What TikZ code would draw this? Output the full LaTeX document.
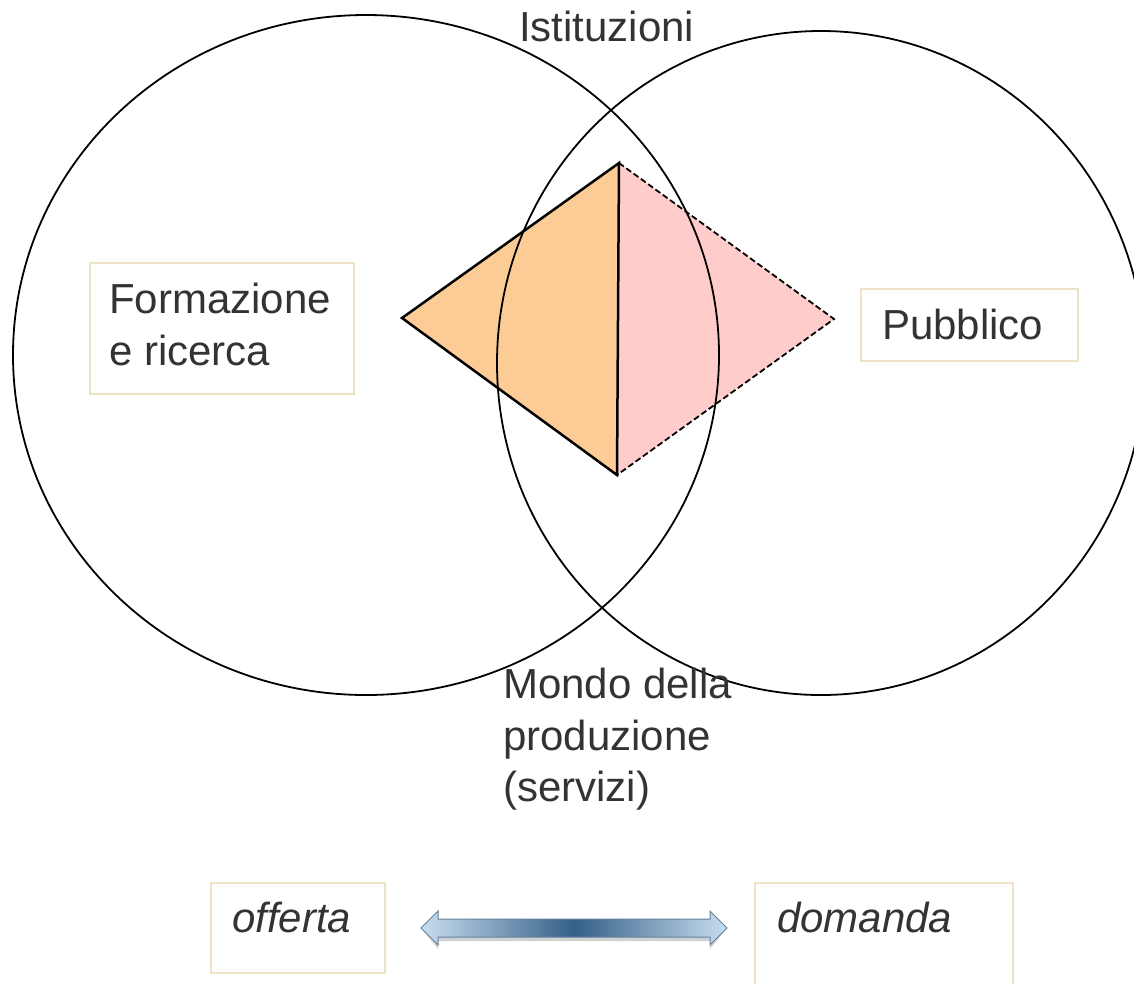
\documentclass[tikz,border=0pt]{standalone}
\usepackage{fontspec}
\setmainfont{Liberation Sans}
\definecolor{txtgray}{RGB}{51,51,51}
\definecolor{boxbeige}{RGB}{238,226,200}
\definecolor{orangefill}{RGB}{252,203,150}
\definecolor{pinkfill}{RGB}{255,204,204}
\definecolor{arrowlight}{RGB}{200,222,240}
\definecolor{arrowdark}{RGB}{52,95,135}
\definecolor{arrowedge}{RGB}{100,130,160}
\begin{document}
\begin{tikzpicture}[x=1pt,y=-1pt,
  ring/.style={line width=1.8pt},
  lbl/.style={inner sep=0pt, text=txtgray, font=\fontsize{42}{52}\selectfont, anchor=base west},
  tagbox/.style={draw=boxbeige, line width=2pt, inner sep=0pt, anchor=north west},
  solidedge/.style={line width=2.5pt, line join=miter},
  dashedge/.style={line width=1.8pt, dash pattern=on 6pt off 3pt},
]
\useasboundingbox (0,0) rectangle (1134,983);
\clip (0,0) rectangle (1134,983);
% triangles
\coordinate (L) at (402,318);
\coordinate (T) at (619,163);
\coordinate (B) at (617,475);
\coordinate (R) at (834,319);
\fill[orangefill] (L) -- (T) -- (B) -- cycle;
\fill[pinkfill] (T) -- (R) -- (B) -- cycle;
\draw[dashedge] (T) -- (R) -- (B);
\draw[solidedge] (T) -- (L) -- (B) -- cycle;
% circles
\draw[ring] (366,355) ellipse [x radius=353pt, y radius=340pt];
\draw[ring] (821,363) ellipse [x radius=324pt, y radius=332pt];
% boxes
\node[tagbox, minimum width=264pt, minimum height=131pt] (fbox) at (89,262) {};
\node[tagbox, minimum width=217pt, minimum height=72pt] (pbox) at (860,288) {};
\node[tagbox, minimum width=174pt, minimum height=90pt] (obox) at (210,882) {};
\node[tagbox, minimum width=258pt, minimum height=130pt] (dbox) at (754,882) {};
% texts
\node[lbl] (form1) at (109,313) {Formazione};
\node[lbl] (form2) at (109,365) {e ricerca};
\node[lbl] (pub) at (882,339) {Pubblico};
\node[lbl] (ist) at (519,41) {Istituzioni};
\node[lbl] (mondo1) at (503,698) {Mondo della};
\node[lbl] (mondo2) at (503,750) {produzione};
\node[lbl] (mondo3) at (503,801) {(servizi)};
\node[lbl, font=\fontsize{42}{52}\selectfont\itshape] (off) at (232,932) {offerta};
\node[lbl, font=\fontsize{42}{52}\selectfont\itshape] (dom) at (777,932) {domanda};
% double arrow
\coordinate (AL) at (421,928);
\coordinate (AR) at (727,928);
\begin{scope}[yshift=-4pt]
\fill[black, opacity=0.18] (AL) -- (438,911) -- (438,919) -- (710,919) -- (710,911) -- (AR) -- (710,945) -- (710,937) -- (438,937) -- (438,945) -- cycle;
\end{scope}
\shadedraw[left color=arrowlight, right color=arrowlight, middle color=arrowdark, draw=arrowedge, line width=1pt, line join=miter]
  (AL) -- (438,911) -- (438,919) -- (710,919) -- (710,911) -- (AR) -- (710,945) -- (710,937) -- (438,937) -- (438,945) -- cycle;
\end{tikzpicture}
\end{document}
